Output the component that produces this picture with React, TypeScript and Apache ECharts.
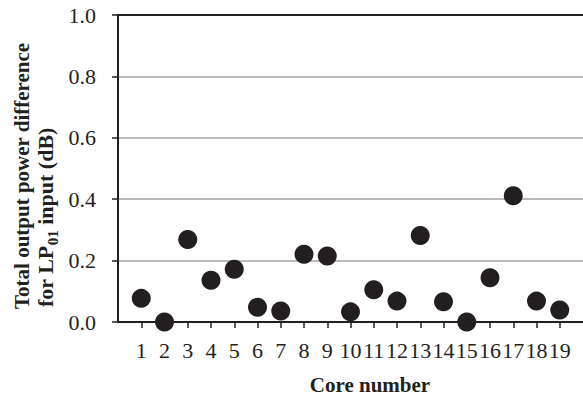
import React, { useEffect, useRef } from "react";
import * as echarts from "echarts";

const cores = [1, 2, 3, 4, 5, 6, 7, 8, 9, 10, 11, 12, 13, 14, 15, 16, 17, 18, 19];
const powerDiff = [0.077, 0.0, 0.269, 0.136, 0.172, 0.048, 0.036, 0.221, 0.215, 0.033, 0.105, 0.068, 0.282, 0.066, 0.0, 0.144, 0.411, 0.068, 0.039];
const yTicks = [0, 0.2, 0.4, 0.6, 0.8, 1.0];

const ink = "#231f20";
const serif = "Liberation Serif";

export default function App() {
  const ref = useRef<HTMLDivElement>(null);
  useEffect(() => {
    if (!ref.current) return;
    const chart = echarts.init(ref.current, undefined, { renderer: "svg" });
    const data = cores.map((c, i) => [c, powerDiff[i]]);
    chart.setOption({
      animation: false,
      backgroundColor: "#ffffff",
      grid: { left: 118, right: -1, top: 15, bottom: 74, containLabel: false },
      xAxis: [
        {
          type: "value",
          min: 0,
          max: 20,
          interval: 1,
          position: "bottom",
          axisLine: { show: true, onZero: false, lineStyle: { color: ink, width: 2 } },
          axisTick: { show: true, inside: false, length: 6, lineStyle: { color: ink, width: 1.5 } },
          axisLabel: {
            show: true,
            margin: 17,
            fontFamily: serif,
            fontSize: 22,
            color: ink,
            showMinLabel: false,
            showMaxLabel: false,
          },
          splitLine: { show: false },
        },
        {
          type: "value",
          min: 0,
          max: 20,
          interval: 1,
          position: "top",
          axisLine: { show: true, onZero: false, lineStyle: { color: ink, width: 2 } },
          axisTick: { show: false },
          axisLabel: { show: false },
          splitLine: { show: false },
        },
      ],
      yAxis: {
        type: "value",
        min: yTicks[0],
        max: yTicks[yTicks.length - 1],
        interval: 0.2,
        axisLine: { show: true, lineStyle: { color: ink, width: 2 } },
        axisTick: { show: true, inside: false, length: 6, lineStyle: { color: ink, width: 1.5 } },
        axisLabel: {
          margin: 22,
          fontFamily: serif,
          fontSize: 22,
          color: ink,
          formatter: (v: number) => v.toFixed(1),
        },
        splitLine: { show: true, lineStyle: { color: "#a3a3a3", width: 1.5 } },
      },
      series: [
        {
          type: "scatter",
          xAxisIndex: 0,
          data,
          symbol: "circle",
          symbolSize: 19,
          itemStyle: { color: ink, opacity: 1 },
          z: 5,
        },
      ],
      graphic: [
        {
          type: "text",
          x: 22,
          y: 309,
          rotation: Math.PI / 2,
          style: {
            text: "Total output power difference",
            fontFamily: serif,
            fontSize: 21,
            fontWeight: "bold",
            fill: ink,
            align: "left",
            verticalAlign: "middle",
          },
        },
        {
          type: "text",
          x: 47,
          y: 307,
          rotation: Math.PI / 2,
          style: {
            text: "{b|for LP}{s|01}{b| input (dB)}",
            fill: ink,
            align: "left",
            verticalAlign: "middle",
            rich: {
              b: { fontFamily: serif, fontSize: 22, fontWeight: "bold", fill: ink, lineHeight: 26, verticalAlign: "top" },
              s: { fontFamily: serif, fontSize: 15, fontWeight: "bold", fill: ink, lineHeight: 12, verticalAlign: "bottom" },
            },
          },
        },
        {
          type: "text",
          x: 370,
          y: 385,
          style: {
            text: "Core number",
            fontFamily: serif,
            fontSize: 21,
            fontWeight: "bold",
            fill: ink,
            align: "center",
            verticalAlign: "middle",
          },
        },
      ],
    });
    return () => chart.dispose();
  }, []);
  return <div ref={ref} style={{ width: 583, height: 396, position: "absolute", left: 0, top: 0 }} />;
}
